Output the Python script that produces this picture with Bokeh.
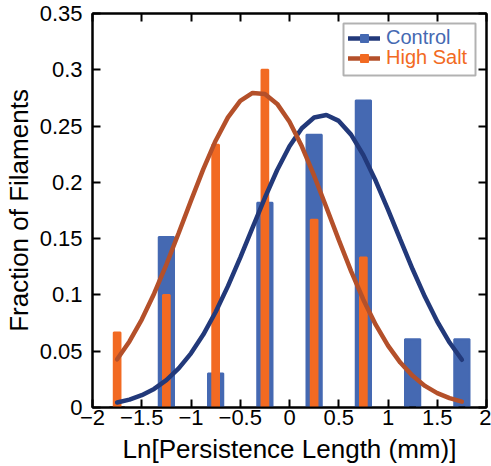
from bokeh.plotting import figure
from bokeh.models import (ColumnDataSource, Legend, LegendItem, LinearAxis,
                          FixedTicker, BoxAnnotation, Range1d)
from bokeh.embed import file_html
from bokeh.resources import INLINE

# ---------------- data ----------------
bin_centers = [-1.75, -1.25, -0.75, -0.25, 0.25, 0.75, 1.25, 1.75]
control_frac = [0.0, 0.1515, 0.0303, 0.1818, 0.2424, 0.2727, 0.0606, 0.0606]
salt_frac = [0.0667, 0.1, 0.2333, 0.3, 0.1667, 0.1333, 0.0, 0.0]

curve_x = [-1.75, -1.625, -1.5, -1.375, -1.25, -1.125, -1.0, -0.875, -0.75,
           -0.625, -0.5, -0.375, -0.25, -0.125, 0.0, 0.125, 0.25, 0.375, 0.5,
           0.625, 0.75, 0.875, 1.0, 1.125, 1.25, 1.375, 1.5, 1.625, 1.75]
control_fit = [0.0044, 0.0070, 0.0109, 0.0165, 0.0243, 0.0347, 0.0481, 0.0648,
               0.0848, 0.1078, 0.1332, 0.1598, 0.1863, 0.2110, 0.2321, 0.2481,
               0.2576, 0.2598, 0.2546, 0.2424, 0.2242, 0.2014, 0.1758, 0.1491,
               0.1228, 0.0983, 0.0764, 0.0577, 0.0424]
salt_fit = [0.0428, 0.0587, 0.0781, 0.1011, 0.1270, 0.1550, 0.1838, 0.2118,
            0.2370, 0.2577, 0.2723, 0.2794, 0.2785, 0.2697, 0.2538, 0.2320,
            0.2059, 0.1777, 0.1489, 0.1212, 0.0958, 0.0736, 0.0550, 0.0399,
            0.0281, 0.0192, 0.0128, 0.0083, 0.0052]

x_ticks = [-2, -1.5, -1, -0.5, 0, 0.5, 1, 1.5, 2]
y_ticks = [0, 0.05, 0.1, 0.15, 0.2, 0.25, 0.3, 0.35]
x_title = "Ln[Persistence Length (mm)]"
y_title = "Fraction of Filaments"

# ---------------- styles ----------------
BAR_BLUE = "#4569b2"
BAR_ORANGE = "#f26a22"
LINE_NAVY = "#22397a"
LINE_BROWN = "#b4502a"
FONT = "Liberation Sans"

p = figure(width=491, height=466,
           x_range=Range1d(-2, 2), y_range=Range1d(0, 0.35),
           output_backend="svg", toolbar_location=None,
           min_border_left=92, min_border_right=5,
           min_border_top=13, min_border_bottom=58,
           background_fill_color="white", border_fill_color="white")
p.xgrid.visible = False
p.ygrid.visible = False
p.outline_line_color = "black"
p.outline_line_width = 2

def style_axis(ax, ticks, show_labels):
    ax.ticker = FixedTicker(ticks=ticks)
    ax.major_tick_in = 8
    ax.major_tick_out = 0
    ax.minor_tick_line_color = None
    ax.axis_line_width = 2
    ax.axis_line_color = "black"
    ax.major_tick_line_width = 2
    ax.major_tick_line_color = "black"
    if show_labels:
        ax.major_label_text_font = FONT
        ax.major_label_text_font_size = "22px"
        ax.major_label_text_color = "black"
        ax.axis_label_text_font = FONT
        ax.axis_label_text_font_size = "26px"
        ax.axis_label_text_font_style = "normal"
        ax.axis_label_text_color = "black"
    else:
        ax.major_label_overrides = {t: "" for t in ticks}
        ax.major_label_standoff = 0

style_axis(p.xaxis[0], x_ticks, True)
style_axis(p.yaxis[0], y_ticks, True)
p.xaxis.axis_label = x_title
p.yaxis.axis_label = y_title
p.xaxis.major_label_standoff = 2
p.xaxis.axis_label_standoff = 6
p.yaxis.major_label_standoff = 10
p.yaxis.axis_label_standoff = 3

top_ax = LinearAxis()
style_axis(top_ax, x_ticks, False)
p.add_layout(top_ax, "above")
right_ax = LinearAxis()
style_axis(right_ax, y_ticks, False)
p.add_layout(right_ax, "right")

# ---------------- bars ----------------
ctrl_src = ColumnDataSource(dict(
    x=bin_centers, top=control_frac,
    lc=["black" if v == 0 else BAR_BLUE for v in control_frac]))
salt_src = ColumnDataSource(dict(
    x=bin_centers, top=salt_frac,
    lc=["black" if v == 0 else BAR_ORANGE for v in salt_frac]))

p.vbar(x="x", top="top", bottom=0, width=0.155, source=ctrl_src,
       fill_color=BAR_BLUE, line_color="lc", line_width=2)
p.vbar(x="x", top="top", bottom=0, width=0.068, source=salt_src,
       fill_color=BAR_ORANGE, line_color="lc", line_width=2)

# ---------------- fitted curves ----------------
c_line = p.line(curve_x, control_fit, line_color=LINE_NAVY, line_width=4.5,
                line_cap="round")
s_line = p.line(curve_x, salt_fit, line_color=LINE_BROWN, line_width=4.5,
                line_cap="round")

# legend marker swatches (a single NaN point: nothing drawn in the plot)
nan = float("nan")
c_sq = p.scatter(x=[nan], y=[nan], marker="square", size=12,
                 fill_color=BAR_BLUE, line_color=BAR_BLUE)
s_sq = p.scatter(x=[nan], y=[nan], marker="square", size=12,
                 fill_color=BAR_ORANGE, line_color=BAR_ORANGE)

def make_legend(label, renderers, color, loc):
    return Legend(items=[LegendItem(label=label, renderers=renderers)],
                  location=loc, padding=0, margin=0, spacing=0,
                  glyph_width=32, glyph_height=20, label_height=20,
                  label_standoff=6, border_line_alpha=0,
                  background_fill_alpha=0,
                  label_text_font=FONT, label_text_font_size="20px",
                  label_text_color=color)

p.add_layout(make_legend("Control", [c_line, c_sq], BAR_BLUE, (256, 358)), "center")
p.add_layout(make_legend("High Salt", [s_line, s_sq], BAR_ORANGE, (256, 338)), "center")

# legend frame (screen units, relative to the plot frame, y upward)
p.add_layout(BoxAnnotation(left=251, right=383, top=384, bottom=332,
                           left_units="screen", right_units="screen",
                           top_units="screen", bottom_units="screen",
                           fill_alpha=0, line_color="black", line_width=2))

open("out.html", "w").write(file_html(p, INLINE))
